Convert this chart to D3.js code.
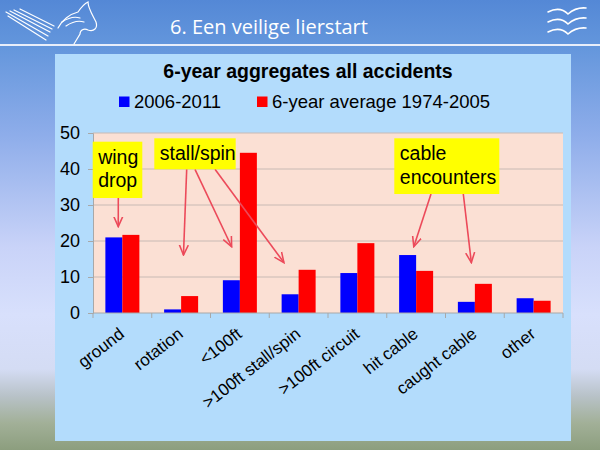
<!DOCTYPE html>
<html><head><meta charset="utf-8">
<script src="https://cdn.jsdelivr.net/npm/d3@7"></script>
<style>html,body{margin:0;padding:0;overflow:hidden;}svg{display:block;}</style>
</head><body>
<script>
// ---- data ----
const categories = ["ground","rotation","<100ft",">100ft stall/spin",">100ft circuit","hit cable","caught cable","other"];
const seriesNames = ["2006-2011","6-year average 1974-2005"];
const values2006 = [21.0, 1.0, 9.1, 5.2, 11.1, 16.1, 3.1, 4.1];
const valuesAvg = [21.7, 4.7, 44.5, 12.0, 19.4, 11.7, 8.1, 3.4];
const yTicks = [0,10,20,30,40,50];
const chartTitle = "6-year aggregates all accidents";
const slideTitle = "6. Een veilige lierstart";
// annotations: label lines, arrow targets given as [category, offset within band (fraction), value]
const annotations = [
  {lines:["wing","drop"], targets:[["ground",-0.07,24]]},
  {lines:["stall/spin"], targets:[["rotation",0.04,16.1],["<100ft",-0.14,18.4],[">100ft stall/spin",-0.25,14]]},
  {lines:["cable","encounters"], targets:[["hit cable",-0.04,18.4],["caught cable",-0.06,14]]}
];

const W=600,H=450;
const svg=d3.select("body").append("svg").attr("width",W).attr("height",H);
const defs=svg.append("defs");
const bg=defs.append("linearGradient").attr("id","bg").attr("x1",0).attr("y1",0).attr("x2",0).attr("y2",1);
[[0,"#5488d6"],[0.1,"#6396dc"],[0.3,"#8eadea"],[0.55,"#c9d3f8"],[0.7,"#d8e0fc"],[0.82,"#d4dcf4"],[0.88,"#b8c2c8"],[0.94,"#a2b098"],[1,"#8c9e7e"]]
  .forEach(([o,c])=>bg.append("stop").attr("offset",o).attr("stop-color",c));
svg.append("rect").attr("width",W).attr("height",H).attr("fill","url(#bg)");
// header line
svg.append("rect").attr("x",0).attr("y",44).attr("width",W).attr("height",2).attr("fill","#e8eefa");
svg.append("text").attr("x",170).attr("y",34).attr("fill","#ffffff")
  .style("font-family","'Open Sans','Noto Sans',sans-serif").style("font-size","20px").text(slideTitle);

// logos (simple white line art)
const logo=svg.append("g").attr("fill","none").attr("stroke","#ffffff").attr("stroke-width",1.2).attr("stroke-linecap","round");
[[6,12,48,36],[10,11,50,32],[14,10,52,29],[8,16,46,40],[20,9,54,26]].forEach(d=>logo.append("line").attr("x1",d[0]).attr("y1",d[1]).attr("x2",d[2]).attr("y2",d[3]));
logo.append("path").attr("d","M58,28 C62,20 70,14 78,12 C82,6 86,3 88,2 C88,8 92,14 96,22 C98,28 94,32 88,30 C84,28 80,30 80,34 L74,44");
logo.append("path").attr("d","M62,22 C68,18 74,16 80,18 M66,26 C72,22 78,20 84,22");
const birds=svg.append("g").attr("fill","none").attr("stroke","#ffffff").attr("stroke-width",1.6).attr("stroke-linecap","round");
[10,20,30].forEach(y=>birds.append("path").attr("d",`M548,${y+2} Q560,${y-4} 568,${y+4} Q576,${y-3} 586,${y-2}`));

// chart panel
svg.append("rect").attr("x",55).attr("y",54).attr("width",516).attr("height",387).attr("fill","#b3dcfc");

const x0=d3.scaleBand().domain(categories).range([93,563]).padding(0);
const bw=x0.bandwidth();
const x1=d3.scaleBand().domain(seriesNames).range([(bw-34)/2,(bw+34)/2]).padding(0);
const y=d3.scaleLinear().domain([0,50]).range([313,133]);
const colors=d3.scaleOrdinal().domain(seriesNames).range(["#0000ff","#ff0000"]);

svg.append("rect").attr("x",93).attr("y",y(50)).attr("width",470).attr("height",y(0)-y(50)).attr("fill","#fbe0d4");
// gridlines
svg.append("g").selectAll("line").data(yTicks.filter(t=>t>0)).join("line")
  .attr("x1",93).attr("x2",563).attr("y1",d=>y(d)).attr("y2",d=>y(d)).attr("stroke","#c8bab4").attr("stroke-width",1);

// y axis
const yAx=svg.append("g").attr("transform","translate(93,0)")
  .call(d3.axisLeft(y).tickValues(yTicks).tickSize(5).tickPadding(8));
yAx.select(".domain").attr("stroke","#a8a8a8");
yAx.selectAll(".tick line").attr("stroke","#a8a8a8");
yAx.selectAll("text").style("font-family","'Liberation Sans',Arial,sans-serif").style("font-size","18px").attr("fill","#000");

// bars
const rows=categories.map((c,i)=>({c,v:[values2006[i],valuesAvg[i]]}));
const g=svg.append("g");
g.selectAll("g").data(rows).join("g").attr("transform",d=>`translate(${x0(d.c)},0)`)
  .selectAll("rect").data(d=>d.v.map((v,j)=>({s:seriesNames[j],v}))).join("rect")
  .attr("x",d=>x1(d.s)).attr("width",x1.bandwidth()).attr("y",d=>y(d.v)).attr("height",d=>y(0)-y(d.v)).attr("fill",d=>colors(d.s));

// x axis
const xAx=svg.append("g").attr("transform","translate(0,313)");
xAx.append("line").attr("x1",93).attr("x2",563).attr("stroke","#a8a8a8");
xAx.selectAll(".tk").data(categories.concat(["__end"])).join("line").attr("class","tk")
  .attr("x1",(d,i)=>i<categories.length?x0(d):x0(categories[categories.length-1])+bw)
  .attr("x2",(d,i)=>i<categories.length?x0(d):x0(categories[categories.length-1])+bw)
  .attr("y1",0).attr("y2",5).attr("stroke","#a8a8a8");
xAx.selectAll("text").data(categories).join("text")
  .attr("transform",d=>`translate(${x0(d)+bw/2+3},${23}) rotate(-38)`)
  .attr("text-anchor","end").style("font-family","'Liberation Sans',Arial,sans-serif").style("font-size","17px").attr("fill","#000")
  .text(d=>d);

// title and legend
svg.append("text").attr("x",308).attr("y",78).attr("text-anchor","middle")
  .style("font-family","'Liberation Sans',Arial,sans-serif").style("font-size","19.5px").style("font-weight","bold").text(chartTitle);
const legX=[119,257];
const leg=svg.append("g").selectAll("g").data(seriesNames).join("g").attr("transform",(d,i)=>`translate(${legX[i]},0)`);
leg.append("rect").attr("x",0).attr("y",96.5).attr("width",10.5).attr("height",10.5).attr("fill",d=>colors(d));
leg.append("text").attr("x",15).attr("y",108).style("font-family","'Liberation Sans',Arial,sans-serif").style("font-size","18.5px").text(d=>d);

// annotations
const boxes=[{x:92.7,y:141.7,w:49.6,h:56.3},{x:154.3,y:138.3,w:81.4,h:31},{x:394.3,y:138.3,w:105,h:55.7}];
defs.append("marker").attr("id","ah").attr("viewBox","0 0 10 10").attr("refX",9).attr("refY",5)
  .attr("markerWidth",7).attr("markerHeight",7).attr("orient","auto-start-reverse")
  .append("path").attr("d","M0,1 L9,5 L0,9").attr("fill","none").attr("stroke","#ec4a5a").attr("stroke-width",1.4);
const starts=[[[118.3,198]],[[186.7,169.3],[195,169.3],[215,169.3]],[[431,194],[463.3,194]]];
annotations.forEach((a,i)=>{
  const b=boxes[i];
  a.targets.forEach((t,k)=>{
    const tx=x0(t[0])+bw/2+t[1]*bw, ty=y(t[2]);
    svg.append("line").attr("x1",starts[i][k][0]).attr("y1",starts[i][k][1]).attr("x2",tx).attr("y2",ty)
      .attr("stroke","#ec4a5a").attr("stroke-width",1.6).attr("marker-end","url(#ah)");
  });
  svg.append("rect").attr("x",b.x).attr("y",b.y).attr("width",b.w).attr("height",b.h).attr("fill","#ffff00");
  a.lines.forEach((l,j)=>svg.append("text").attr("x",b.x+5.5).attr("y",b.y+22+j*23.5)
    .style("font-family","'Liberation Sans',Arial,sans-serif").style("font-size","19.5px").attr("fill","#000").text(l));
});
</script>
</body></html>
